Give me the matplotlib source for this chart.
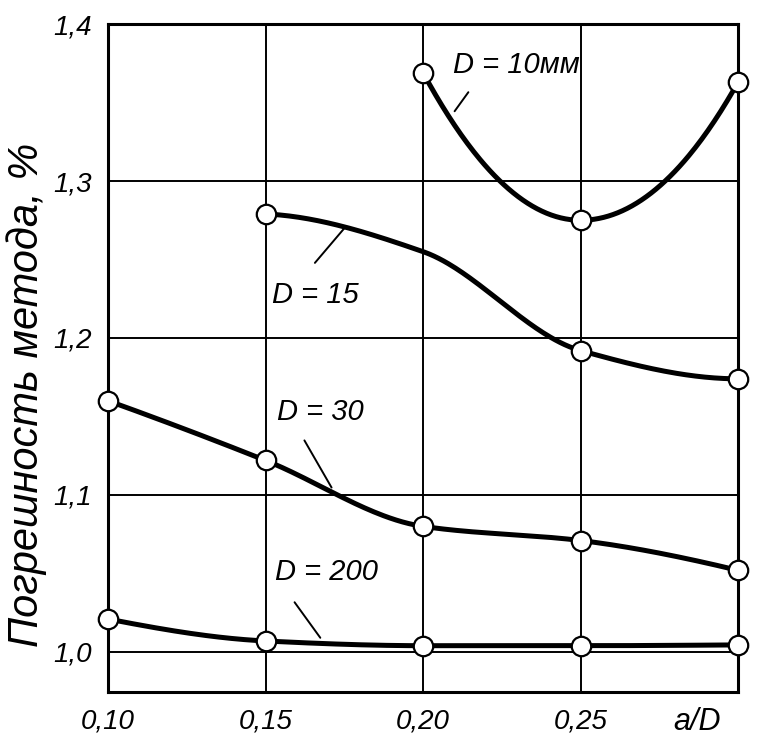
import numpy as np
import matplotlib
matplotlib.use("Agg")
import matplotlib.pyplot as plt

# ---- data ----
d10_x = [0.20, 0.25, 0.30]
d10_y = [1.369, 1.275, 1.363]

d15_x = [0.15, 0.25, 0.30]
d15_y = [1.279, 1.192, 1.174]
# course of the drawn D=15 curve (no marker at 0.20)
d15_curve_x = [0.15, 0.20, 0.25, 0.30]
d15_curve_y = [1.279, 1.255, 1.192, 1.174]

d30_x = [0.10, 0.15, 0.20, 0.25, 0.30]
d30_y = [1.160, 1.122, 1.080, 1.071, 1.052]

d200_x = [0.10, 0.15, 0.20, 0.25, 0.30]
d200_y = [1.021, 1.007, 1.004, 1.004, 1.0045]

x_ticks = [0.10, 0.15, 0.20, 0.25]
x_tick_labels = ["0,10", "0,15", "0,20", "0,25"]
y_ticks = [1.0, 1.1, 1.2, 1.3, 1.4]
y_tick_labels = ["1,0", "1,1", "1,2", "1,3", "1,4"]

labels = ["D = 10мм", "D = 15", "D = 30", "D = 200"]
ylabel = "Погрешность метода, %"
xlabel = "a/D"


def pchip(x, y, n=200):
    x = np.asarray(x, float)
    y = np.asarray(y, float)
    h = np.diff(x)
    delta = np.diff(y) / h
    m = np.zeros_like(y)
    for k in range(1, len(x) - 1):
        if delta[k - 1] * delta[k] <= 0:
            m[k] = 0.0
        else:
            w1 = 2 * h[k] + h[k - 1]
            w2 = h[k] + 2 * h[k - 1]
            m[k] = (w1 + w2) / (w1 / delta[k - 1] + w2 / delta[k])
    m[0] = delta[0]
    m[-1] = delta[-1]
    if len(x) > 2:
        m[0] = ((2 * h[0] + h[1]) * delta[0] - h[0] * delta[1]) / (h[0] + h[1])
        if np.sign(m[0]) != np.sign(delta[0]):
            m[0] = 0
        m[-1] = ((2 * h[-1] + h[-2]) * delta[-1] - h[-1] * delta[-2]) / (h[-1] + h[-2])
        if np.sign(m[-1]) != np.sign(delta[-1]):
            m[-1] = 0
    xs = np.linspace(x[0], x[-1], n)
    idx = np.clip(np.searchsorted(x, xs) - 1, 0, len(x) - 2)
    t = (xs - x[idx]) / h[idx]
    h00 = 2 * t**3 - 3 * t**2 + 1
    h10 = t**3 - 2 * t**2 + t
    h01 = -2 * t**3 + 3 * t**2
    h11 = t**3 - t**2
    ys = h00 * y[idx] + h10 * h[idx] * m[idx] + h01 * y[idx + 1] + h11 * h[idx] * m[idx + 1]
    return xs, ys


fam = ["Liberation Sans", "DejaVu Sans"]
plt.rcParams["font.family"] = fam

fig = plt.figure(figsize=(7.57, 7.39), dpi=100)
ax = fig.add_axes([0.1427, 0.0636, 0.8323, 0.9039])

lw = 3.6
ms = 14
mkw = dict(marker="o", markersize=ms, markerfacecolor="white",
           markeredgecolor="black", markeredgewidth=1.6, linestyle="none",
           zorder=5, clip_on=False)

for cx, cy, px, py in [
    (d10_x, d10_y, d10_x, d10_y),
    (d15_curve_x, d15_curve_y, d15_x, d15_y),
    (d30_x, d30_y, d30_x, d30_y),
    (d200_x, d200_y, d200_x, d200_y),
]:
    xs, ys = pchip(cx, cy)
    ax.plot(xs, ys, color="black", lw=lw, solid_capstyle="round", zorder=4,
            clip_on=False)
    ax.plot(px, py, **mkw)

ax.set_xlim(0.10, 0.30)
ax.set_ylim(0.9745, 1.4)
ax.set_xticks(x_ticks + [0.30])
ax.set_xticklabels(x_tick_labels + [""])
ax.set_yticks(y_ticks)
ax.set_yticklabels(y_tick_labels)
ax.tick_params(length=0, labelsize=20, pad=12)
for lab in ax.get_xticklabels() + ax.get_yticklabels():
    lab.set_fontstyle("italic")
ax.grid(True, color="black", lw=1.4)
ax.set_axisbelow(True)
for s in ax.spines.values():
    s.set_linewidth(2.2)

# a/D label at the right end of the x axis
ax.text(0.287, -0.022, xlabel, transform=ax.get_xaxis_transform(),
        ha="center", va="top", fontsize=22, style="italic")

fig.text(0.035, 0.465, ylabel, rotation=90, ha="center", va="center",
         fontsize=30, style="italic")

tk = dict(fontsize=21, style="italic", va="center", ha="left", zorder=6)
ax.text(0.2095, 1.374, labels[0], **tk)
ax.text(0.152, 1.2274, labels[1], **tk)
ax.text(0.1537, 1.1529, labels[2], **tk)
ax.text(0.153, 1.051, labels[3], **tk)

leaders = [
    ((0.2149, 1.358), (0.2095, 1.343)),
    ((0.1651, 1.2465), (0.1759, 1.272)),
    ((0.1619, 1.1363), (0.1714, 1.1032)),
    ((0.1587, 1.0331), (0.1679, 1.0076)),
]
for (x0, y0), (x1, y1) in leaders:
    ax.annotate("", xy=(x1, y1), xytext=(x0, y0),
                arrowprops=dict(arrowstyle="-", color="black", lw=1.4))

fig.savefig("out.png", dpi=100, facecolor="white")
